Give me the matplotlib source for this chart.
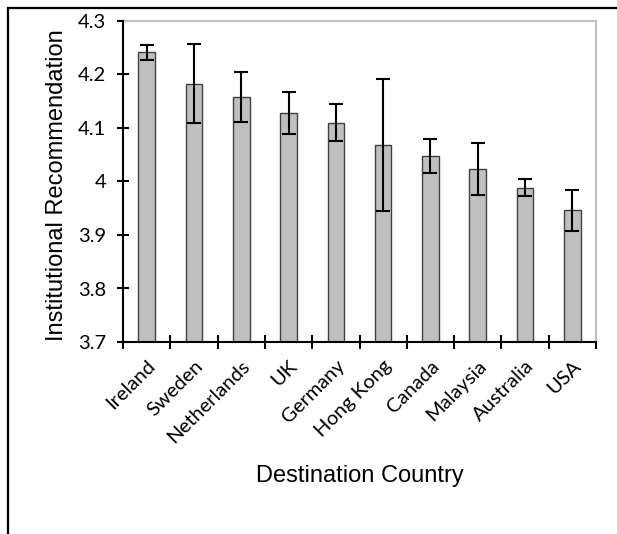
import numpy as np
import matplotlib
matplotlib.use("Agg")
import matplotlib.pyplot as plt
from matplotlib.patches import Rectangle
from matplotlib.ticker import FuncFormatter

# data
countries = ['Ireland', 'Sweden', 'Netherlands', 'UK', 'Germany',
             'Hong Kong', 'Canada', 'Malaysia', 'Australia', 'USA']
means = [4.242, 4.183, 4.158, 4.128, 4.110, 4.068, 4.047, 4.023, 3.988, 3.946]
errors = [0.014, 0.074, 0.047, 0.039, 0.034, 0.123, 0.032, 0.049, 0.016, 0.038]
y_ticks = [3.7, 3.8, 3.9, 4.0, 4.1, 4.2, 4.3]

tick_font = 'Lato'
label_font = 'Liberation Sans'

fig = plt.figure(figsize=(6.17, 5.34), dpi=100)
ax = fig.add_axes([123 / 617, 1 - 342 / 534, 473 / 617, 321 / 534])

x = np.arange(len(countries))
ax.bar(x, means, width=0.353, color='#bfbfbf', edgecolor='#404040',
       linewidth=1.0, zorder=2)
ax.errorbar(x, means, yerr=errors, fmt='none', ecolor='black',
            elinewidth=1.5, capsize=5.3, capthick=1.5, zorder=3)

ax.set_ylim(3.7, 4.3)
ax.set_xlim(-0.5, len(countries) - 0.5)
ax.set_yticks(y_ticks)
ax.yaxis.set_major_formatter(FuncFormatter(lambda v, p: f'{v:g}'))
ax.tick_params(axis='y', direction='inout', length=8, width=1.5, pad=8,
               labelsize=14.5)

# labels at category centers, tick marks at the boundaries
ax.set_xticks(x)
ax.set_xticklabels(countries, rotation=45, ha='right', va='top',
                   rotation_mode='anchor')
ax.set_xticks(np.arange(len(countries) + 1) - 0.5, minor=True)
ax.tick_params(axis='x', which='major', length=0, pad=11, labelsize=14.5)
ax.tick_params(axis='x', which='minor', direction='inout', length=9.5,
               width=1.5)

for lab in ax.get_xticklabels() + ax.get_yticklabels():
    lab.set_fontfamily(tick_font)

for side in ['left', 'bottom']:
    ax.spines[side].set_color('black')
    ax.spines[side].set_linewidth(1.5)
    ax.spines[side].set_zorder(4)
for side in ['top', 'right']:
    ax.spines[side].set_color('#bfbfbf')
    ax.spines[side].set_linewidth(1.5)

fig.text(63 / 617, 1 - 185.5 / 534, 'Institutional Recommendation',
         rotation=90, rotation_mode='anchor', ha='center', va='baseline',
         fontsize=17, family=label_font)
fig.text(359.5 / 617, 1 - 482 / 534, 'Destination Country',
         ha='center', va='baseline', fontsize=17, family=label_font)

# outer frame, cut off at the right and bottom
fig.add_artist(Rectangle((7.5 / 617, -0.5), 2, 1 - 7.5 / 534 + 0.5,
                         transform=fig.transFigure, fill=False,
                         edgecolor='black', linewidth=1.6))

fig.savefig('out.png', dpi=100)
